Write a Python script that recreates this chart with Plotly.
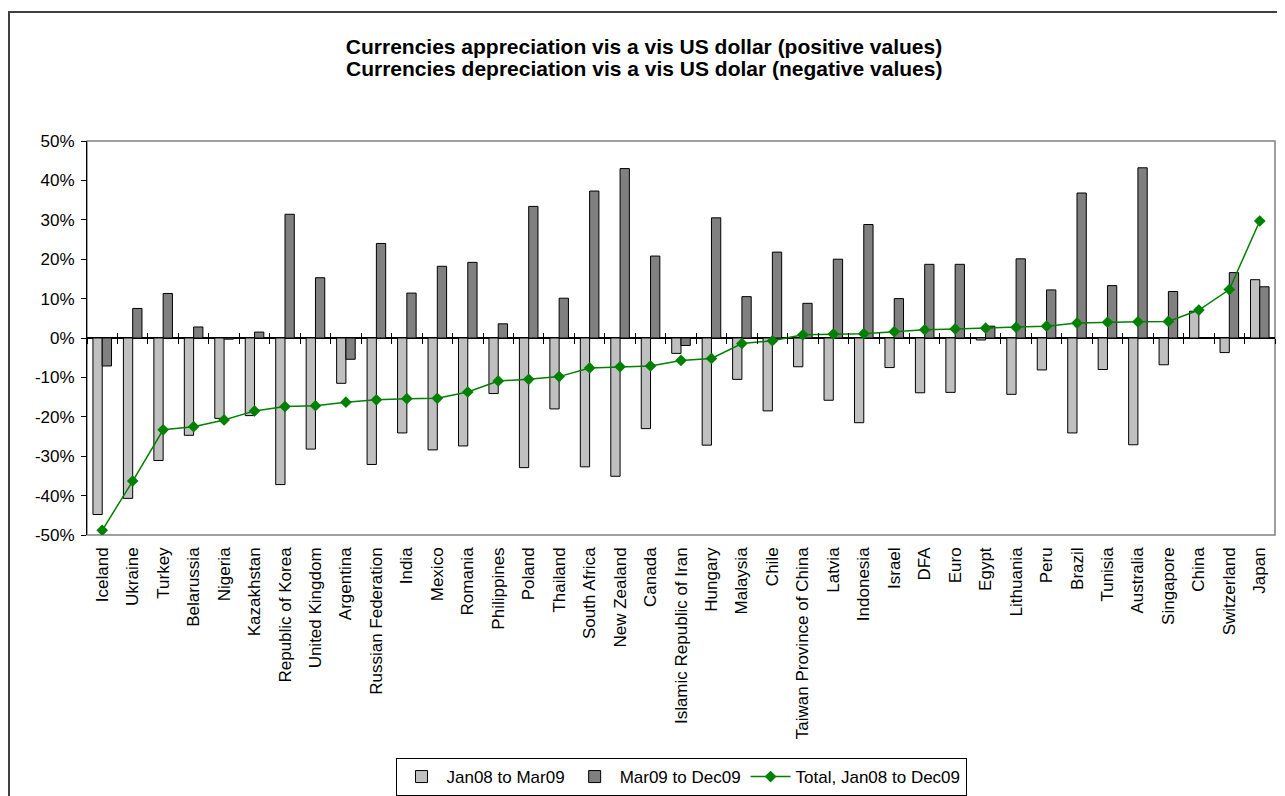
import plotly.graph_objects as go

countries = ["Iceland", "Ukraine", "Turkey", "Belarussia", "Nigeria", "Kazakhstan",
             "Republic of Korea", "United Kingdom", "Argentina", "Russian Federation",
             "India", "Mexico", "Romania", "Philippines", "Poland", "Thailand",
             "South Africa", "New Zealand", "Canada", "Islamic Republic of Iran",
             "Hungary", "Malaysia", "Chile", "Taiwan Province of China", "Latvia",
             "Indonesia", "Israel", "DFA", "Euro", "Egypt", "Lithuania", "Peru",
             "Brazil", "Tunisia", "Australia", "Singapore", "China", "Switzerland", "Japan"]

jan08_mar09 = [-44.8, -40.7, -31.1, -24.7, -20.4, -19.7, -37.2, -28.2, -11.5, -32.1,
               -24.1, -28.4, -27.4, -14.1, -32.9, -18.0, -32.7, -35.1, -23.0, -3.9,
               -27.2, -10.5, -18.5, -7.3, -15.8, -21.5, -7.5, -13.9, -13.8, -0.5,
               -14.3, -8.1, -24.1, -8.0, -27.1, -6.8, 6.8, -3.7, 14.8]

mar09_dec09 = [-7.1, 7.5, 11.3, 2.8, -0.3, 1.5, 31.4, 15.3, -5.4, 24.0,
               11.4, 18.2, 19.2, 3.6, 33.4, 10.1, 37.3, 43.0, 20.8, -1.9,
               30.5, 10.5, 21.8, 8.8, 20.0, 28.8, 10.0, 18.7, 18.7, 3.0,
               20.1, 12.2, 36.8, 13.3, 43.2, 11.8, 0.1, 16.6, 13.0]

total_jan08_dec09 = [-48.8, -36.3, -23.3, -22.5, -20.8, -18.5, -17.4, -17.2, -16.3, -15.7,
                     -15.4, -15.3, -13.7, -10.9, -10.5, -9.8, -7.6, -7.3, -7.1, -5.7,
                     -5.2, -1.4, -0.7, 0.8, 1.0, 1.1, 1.6, 2.1, 2.3, 2.5,
                     2.7, 3.0, 3.8, 4.0, 4.1, 4.2, 7.1, 12.3, 29.7]

y_ticks = [-50, -40, -30, -20, -10, 0, 10, 20, 30, 40, 50]
y_tick_labels = [f"{v}%" for v in y_ticks]

title_line1 = "Currencies appreciation vis a vis US dollar (positive values)"
title_line2 = "Currencies depreciation vis a vis US dolar (negative values)"

FONT = "Liberation Sans, Arial, sans-serif"
n = len(countries)
boundaries = [i - 0.5 for i in range(n + 1)]

# page body adds an 8px offset; the figure is sized to compensate
OFF = 8
W, H = 1285 - OFF, 796 - OFF
L, R, T, B = 79, 10, 133, 261
PW, PH = W - L - R, H - T - B
TITLE_X = 644  # page x of title centre

fig = go.Figure()
fig.add_trace(go.Bar(x=countries, y=jan08_mar09, name="Jan08 to Mar09",
                     marker=dict(color="#C0C0C0", line=dict(color="black", width=1))))
fig.add_trace(go.Bar(x=countries, y=mar09_dec09, name="Mar09 to Dec09",
                     marker=dict(color="#808080", line=dict(color="black", width=1))))
fig.add_trace(go.Scatter(x=countries, y=total_jan08_dec09, name="Total, Jan08 to Dec09",
                         mode="lines+markers",
                         line=dict(color="#008000", width=1.5),
                         marker=dict(symbol="diamond", size=9, color="#008000")))
for ax in ["x2", "x3"]:
    fig.add_trace(go.Scatter(x=[0], y=[0], xaxis=ax, yaxis="y", mode="markers",
                             marker=dict(opacity=0), showlegend=False, hoverinfo="skip"))

fig.update_layout(
    width=W, height=H,
    margin=dict(l=L, r=R, t=T, b=B, autoexpand=False),
    paper_bgcolor="white", plot_bgcolor="white",
    font=dict(family=FONT, size=17, color="black"),
    barmode="group", bargap=0.39, bargroupgap=0,
    title=dict(text="<b>" + title_line1 + "</b>",
               x=(TITLE_X - OFF) / W, xref="container", xanchor="center",
               y=1 - (47 - OFF) / H, yref="container", yanchor="middle",
               font=dict(family=FONT, size=21, color="black")),
    annotations=[dict(text="<b>" + title_line2 + "</b>", showarrow=False,
                      xref="paper", yref="paper",
                      x=(TITLE_X - OFF - L) / PW, xanchor="center",
                      y=1 + (T - (69 - OFF)) / PH, yanchor="middle",
                      font=dict(family=FONT, size=21, color="black"))],
    xaxis=dict(type="category", range=[-0.5, n - 0.5], tickangle=-90,
               showline=False, ticks="", showgrid=False, zeroline=False,
               ticklabelstandoff=8, tickfont=dict(size=17)),
    xaxis2=dict(overlaying="x", anchor="free", position=0.5, range=[-0.5, n - 0.5],
                tickvals=boundaries, ticks="outside", ticklen=5, tickcolor="black",
                showticklabels=False, showline=False, showgrid=False, zeroline=False),
    xaxis3=dict(overlaying="x", anchor="free", position=0.5, range=[-0.5, n - 0.5],
                tickvals=boundaries, ticks="inside", ticklen=5, tickcolor="black",
                showticklabels=False, showline=False, showgrid=False, zeroline=False),
    yaxis=dict(range=[-50, 50], tickvals=y_ticks, ticktext=y_tick_labels,
               showline=True, linecolor="black", linewidth=1,
               ticks="outside", ticklen=5, tickcolor="black",
               showgrid=False, zeroline=True, zerolinecolor="black", zerolinewidth=1.5,
               ticklabelstandoff=3, tickfont=dict(size=17)),
    legend=dict(orientation="h", x=0.5, xanchor="center",
                y=(PH - (777 - OFF - T)) / PH, yanchor="middle",
                bordercolor="black", borderwidth=1, bgcolor="white",
                itemwidth=40,
                font=dict(size=17), traceorder="normal"),
    shapes=[
        dict(type="rect", xref="paper", yref="paper", x0=0, x1=1, y0=0, y1=1,
             line=dict(color="#808080", width=1.5), layer="below"),
        dict(type="rect", xref="paper", yref="paper",
             x0=(1 - L) / PW, x1=1.2, y0=-1.0, y1=1 + (T - 4) / PH,
             line=dict(color="#404040", width=2)),
    ],
)

fig.write_html("out.html")
